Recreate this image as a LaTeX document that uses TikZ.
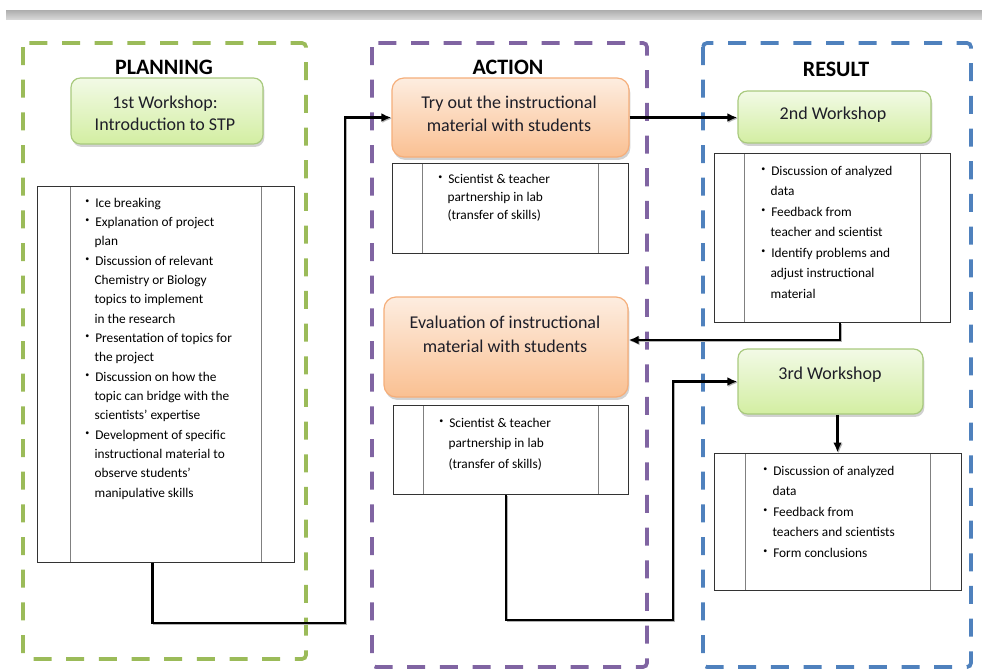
\documentclass[tikz,border=0pt]{standalone}
\usepackage{fontspec}
\setmainfont{Carlito}
\usetikzlibrary{arrows.meta,shadows,fit}
\definecolor{gfr}{HTML}{9BBB59}
\definecolor{pfr}{HTML}{8064A2}
\definecolor{bfr}{HTML}{4F81BD}
\definecolor{gtop}{HTML}{F2FAE6}
\definecolor{gbot}{HTML}{D3EEA2}
\definecolor{gbd}{HTML}{A9CA7E}
\definecolor{otop}{HTML}{FDEDE0}
\definecolor{obot}{HTML}{FAC092}
\definecolor{obd}{HTML}{F5AE7A}
\definecolor{txt}{HTML}{1E1E28}
\newcommand\bit{\makebox[7.5pt][l]{\raisebox{3pt}{\fontsize{6}{6}\selectfont\textbullet}}}
\newcommand\ind{\hspace*{7pt}}
\newcommand\lst[3]{\parbox[t]{#1}{\fontsize{10}{#2}\selectfont\raggedright #3}}
\newcommand\btx[2]{\parbox[t]{190pt}{\fontsize{13.5}{#1}\selectfont\centering #2}}
\tikzset{
  frame/.style={line width=2.8pt, dash pattern=on 13.5pt off 11pt, rounded corners=3pt},
  hdr/.style={font=\fontsize{16.5}{19}\selectfont\bfseries, inner sep=0pt, anchor=base},
  gbox/.style={rounded corners=7pt, draw=gbd, line width=0.9pt, top color=gtop, bottom color=gbot,
    inner sep=0pt, drop shadow={shadow xshift=1pt, shadow yshift=-2.2pt, opacity=0.3, fill=black!60}},
  obox/.style={rounded corners=9pt, draw=obd, line width=0.9pt, top color=otop, bottom color=obot,
    inner sep=0pt, drop shadow={shadow xshift=1pt, shadow yshift=-2.2pt, opacity=0.3, fill=black!60}},
  listbox/.style={draw=black!80, line width=0.75pt, fill=white, inner sep=0pt,
    path picture={\draw[black!50, line width=0.75pt]
      ([xshift=#1]path picture bounding box.north west) -- ([xshift=#1]path picture bounding box.south west)
      ([xshift=-#1]path picture bounding box.north east) -- ([xshift=-#1]path picture bounding box.south east);}},
  listbox/.default=22.5pt,
  btxt/.style={inner sep=0pt, anchor=base, text=txt},
  lt/.style={inner sep=0pt, anchor=base west, text=black},
  conn/.style={line width=1.8pt, -{Latex[length=7.5pt,width=6.5pt]},
    preaction={draw=black!30, transform canvas={xshift=0.8pt,yshift=-0.8pt}}}
}
\begin{document}
\begin{tikzpicture}[x=0.75pt,y=-0.75pt]
\useasboundingbox (0,0) rectangle (982,668);
% top bar
\fill[top color=black!32, bottom color=black!16] (6,10) rectangle (982,19);
% frames
\draw[frame, gfr] (23,43) rectangle (306,659);
\draw[frame, pfr] (372,43) rectangle (647,667);
\draw[frame, bfr] (703,43) rectangle (971,667);
% headers
\node[hdr] (hp) at (164,74) {PLANNING};
\node[hdr] (ha) at (508,74) {ACTION};
\node[hdr] (hr) at (836,76) {RESULT};
% planning
\node[gbox, fit={(71,78)(263,144)}] (w1) {};
\node[btxt] (w1t) at (165,108) {\btx{16.5pt}{1st Workshop:\\Introduction to STP}};
\node[listbox=24.75pt, fit={(37,186)(294,562)}] (pl) {};
\node[lt] (plt) at (85,207) {\lst{170pt}{14.5pt}{%
\bit Ice breaking\\
\bit Explanation of project\\
\ind plan\\
\bit Discussion of relevant\\
\ind Chemistry or Biology\\
\ind topics to implement\\
\ind in the research\\
\bit Presentation of topics for\\
\ind the project\\
\bit Discussion on how the\\
\ind topic can bridge with the\\
\ind scientists' expertise\\
\bit Development of specific\\
\ind instructional material to\\
\ind observe students'\\
\ind manipulative skills}};
% action
\node[obox, fit={(392,78)(629,157)}] (try) {};
\node[btxt] (tryt) at (509,108) {\btx{17.25pt}{Try out the instructional\\material with students}};
\node[listbox, fit={(392,163)(628,253)}] (tl) {};
\node[lt] (tlt) at (438,183) {\lst{160pt}{13.7pt}{%
\bit Scientist \& teacher\\
\ind partnership in lab\\
\ind (transfer of skills)}};
\node[obox, fit={(384,297)(628,397)}] (ev) {};
\node[btxt] (evt) at (505,328) {\btx{18pt}{Evaluation of instructional\\material with students}};
\node[listbox, fit={(393,405)(628,494)}] (el) {};
\node[lt] (elt) at (439,427) {\lst{160pt}{15.4pt}{%
\bit Scientist \& teacher\\
\ind partnership in lab\\
\ind (transfer of skills)}};
% result
\node[gbox, fit={(738,91)(931,143)}] (r2) {};
\node[btxt] (r2t) at (833,119) {\btx{17pt}{2nd Workshop}};
\node[listbox, fit={(714,153)(950,322)}] (r2l) {};
\node[lt] (r2lt) at (761,175) {\lst{160pt}{15.4pt}{%
\bit Discussion of analyzed\\
\ind data\\
\bit Feedback from\\
\ind teacher and scientist\\
\bit Identify problems and\\
\ind adjust instructional\\
\ind material}};
\node[gbox, fit={(738,349)(923,414)}] (r3) {};
\node[btxt] (r3t) at (830,379) {\btx{17pt}{3rd Workshop}};
\node[listbox=23.25pt, fit={(714,453)(961,590)}] (r3l) {};
\node[lt] (r3lt) at (763,475) {\lst{160pt}{15.4pt}{%
\bit Discussion of analyzed\\
\ind data\\
\bit Feedback from\\
\ind teachers and scientists\\
\bit Form conclusions}};
% connectors
\coordinate (j1) at (345,623);
\coordinate (j2) at (673,620);
\draw[conn] ([xshift=-9.75pt]pl.south) |- (j1) |- (try.west);
\draw[conn] (try.east) -- (try.east -| r2.west);
\draw[conn] ([xshift=6pt]r2l.south) |- ([yshift=5.25pt]ev.east);
\draw[conn] ([xshift=-3.4pt]el.south) |- (j2) |- (r3.west);
\draw[conn] (r3.south -| r3l.north) -- (r3l.north);
\end{tikzpicture}
\end{document}
